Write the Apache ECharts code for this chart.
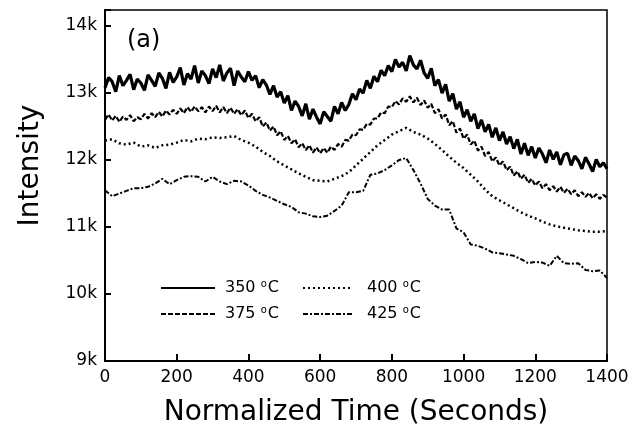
<!DOCTYPE html>
<html>
<head>
<meta charset="utf-8">
<script src="https://cdn.jsdelivr.net/npm/echarts@6/dist/echarts.min.js"></script>
<style>
  html, body { margin: 0; padding: 0; background: #fff; }
  #chart { width: 642px; height: 437px; }
</style>
</head>
<body>
<div id="chart"></div>
<script>
// sample times (seconds)
const time10 = Array.from({ length: 141 }, (_, i) => i * 10);
const time20 = Array.from({ length: 71 }, (_, i) => i * 20);

// 350 oC, read every 10 s (very noisy trace)
const int350 = [
  13080, 13230, 13170, 13020, 13260, 13110, 13190, 13280, 13050, 13210,
  13150, 13040, 13270, 13190, 13100, 13300, 13220, 13070, 13310, 13160,
  13240, 13380, 13120, 13290, 13210, 13410, 13150, 13330, 13260, 13140,
  13360, 13230, 13420, 13180, 13300, 13370, 13110, 13330, 13240, 13170,
  13320, 13190, 13260, 13080, 13200, 13120, 12980, 13110, 12940, 13020,
  12850, 12960, 12740, 12880, 12800, 12660, 12840, 12610, 12760, 12640,
  12540, 12720, 12650, 12580, 12800, 12690, 12860, 12740, 12830, 12990,
  12900, 13060, 13000, 13190, 13070, 13250, 13170, 13340, 13260, 13410,
  13320, 13500, 13390, 13460, 13330, 13560, 13420, 13360, 13490, 13300,
  13220, 13370, 13110, 13200, 13000, 13130, 12880, 12990, 12760, 12870,
  12640, 12750, 12580, 12690, 12470, 12600, 12420, 12530, 12340, 12480,
  12290, 12420, 12240, 12350, 12170, 12310, 12090, 12250, 12070, 12200,
  12030, 12180, 12090, 11960, 12150, 12010, 12120, 11930, 12080, 12100,
  11920, 12060, 11990, 11870, 12040, 11940, 11830, 12010, 11900, 11960,
  11870
];

// 375 oC, every 10 s
const int375 = [
  12600, 12680, 12590, 12660, 12570, 12650, 12600, 12670, 12580, 12640,
  12610, 12690, 12620, 12700, 12640, 12720, 12650, 12740, 12680, 12750,
  12690, 12770, 12700, 12790, 12720, 12800, 12730, 12790, 12710, 12800,
  12730, 12810, 12710, 12790, 12700, 12780, 12690, 12760, 12670, 12740,
  12630, 12690, 12580, 12640, 12500, 12560, 12440, 12500, 12370, 12430,
  12300, 12360, 12250, 12310, 12190, 12250, 12150, 12220, 12110, 12190,
  12100, 12180, 12110, 12200, 12150, 12240, 12200, 12300, 12290, 12380,
  12370, 12460, 12450, 12540, 12530, 12620, 12620, 12710, 12700, 12800,
  12790, 12880, 12830, 12920, 12870, 12950, 12860, 12930, 12820, 12890,
  12780, 12840, 12700, 12760, 12620, 12680, 12520, 12580, 12410, 12470,
  12320, 12380, 12230, 12290, 12140, 12200, 12060, 12120, 11980, 12040,
  11920, 11980, 11850, 11900, 11770, 11830, 11720, 11780, 11660, 11720,
  11620, 11680, 11580, 11640, 11550, 11610, 11530, 11600, 11510, 11570,
  11490, 11550, 11460, 11520, 11450, 11510, 11430, 11490, 11420, 11480,
  11440
];

// 400 oC, every 20 s
const int400 = [
  12290, 12310, 12250, 12230, 12260, 12200, 12220, 12180, 12220, 12230,
  12260, 12300, 12280, 12320, 12310, 12340, 12330, 12340, 12360, 12300,
  12260, 12200, 12120, 12060, 11980, 11920, 11860, 11800, 11750, 11700,
  11690, 11680, 11720, 11760, 11820, 11920, 12020, 12120, 12220, 12300,
  12380, 12430, 12480, 12420, 12380, 12320, 12240, 12150, 12050, 11960,
  11880, 11780, 11680, 11560, 11460, 11400, 11340, 11280, 11220, 11170,
  11130, 11080, 11040, 11010, 10990, 10970, 10950, 10940, 10930, 10930,
  10940
];

// 425 oC, every 20 s
const int425 = [
  11550, 11460, 11500, 11540, 11580, 11580, 11600, 11650, 11720, 11640,
  11700, 11750, 11760, 11750, 11680, 11750, 11680, 11640, 11690, 11680,
  11620, 11540, 11480, 11440, 11390, 11340, 11300, 11220, 11200, 11160,
  11150, 11170, 11240, 11320, 11520, 11520, 11540, 11780, 11800, 11850,
  11920, 12000, 12030, 11850, 11650, 11420, 11320, 11260, 11260, 10980,
  10920, 10740, 10720, 10680, 10620, 10610, 10590, 10570, 10520, 10460,
  10480, 10470, 10420, 10570, 10460, 10450, 10460, 10360, 10340, 10350,
  10240
];

const xTicks = [0, 200, 400, 600, 800, 1000, 1200, 1400];
const yTicks = [9000, 10000, 11000, 12000, 13000, 14000];

const FONT = 'DejaVu Sans';

function pairs(xs, ys) {
  return ys.map((v, i) => [xs[i], v]);
}

const chart = echarts.init(document.getElementById('chart'));

const legendText = {
  fontFamily: FONT,
  fontSize: 16,
  color: '#000',
  padding: [0, 0, 0, 5],
  rich: {
    o: { fontFamily: FONT, fontSize: 10, padding: [0, 1, 8, 0], color: '#000' }
  }
};

function legendLabel(name) {
  return name.replace(' \u00b0C', ' {o|o}C');
}

chart.setOption({
  animation: false,
  backgroundColor: '#fff',
  title: {
    text: '(a)',
    left: 122,
    top: 24,
    textStyle: { fontFamily: FONT, fontSize: 24, fontWeight: 'normal', color: '#000' }
  },
  grid: {
    left: 105, right: 35, top: 10, bottom: 76,
    show: true, borderColor: '#000', borderWidth: 1.5, backgroundColor: 'transparent'
  },
  legend: [
    {
      data: ['350 \u00b0C', '375 \u00b0C'],
      orient: 'vertical',
      left: 155, top: 274,
      itemWidth: 54, itemHeight: 14, itemGap: 9,
      itemStyle: { opacity: 0 },
      lineStyle: { width: 2 },
      textStyle: legendText,
      formatter: legendLabel
    },
    {
      data: ['400 \u00b0C', '425 \u00b0C'],
      orient: 'vertical',
      left: 297, top: 274,
      itemWidth: 50, itemHeight: 14, itemGap: 9,
      itemStyle: { opacity: 0 },
      textStyle: Object.assign({}, legendText, { padding: [0, 0, 0, 9] }),
      formatter: legendLabel
    }
  ],
  xAxis: {
    type: 'value',
    min: 0, max: 1400, interval: 200,
    name: 'Normalized Time (Seconds)',
    nameLocation: 'middle',
    nameGap: 38,
    nameTextStyle: { fontFamily: FONT, fontSize: 28, color: '#000' },
    axisLine: { show: true, lineStyle: { color: '#000', width: 2 } },
    axisTick: { inside: true, length: 7, lineStyle: { color: '#000', width: 2 } },
    axisLabel: {
      fontFamily: FONT, fontSize: 17, color: '#000', margin: 8,
      formatter: v => xTicks.includes(v) ? String(v) : ''
    },
    splitLine: { show: false }
  },
  yAxis: {
    type: 'value',
    min: 9000, max: 14240, interval: 1000,
    name: 'Intensity',
    nameLocation: 'middle',
    nameGap: 60,
    nameTextStyle: { fontFamily: FONT, fontSize: 28, color: '#000', padding: [0, 0, 0, 40] },
    axisLine: { show: true, lineStyle: { color: '#000', width: 2 } },
    axisTick: { inside: true, length: 6, lineStyle: { color: '#000', width: 2 } },
    axisLabel: {
      fontFamily: FONT, fontSize: 17, color: '#000', margin: 8,
      formatter: v => yTicks.includes(v) ? (v / 1000) + 'k' : ''
    },
    splitLine: { show: false }
  },
  series: [
    {
      name: '350 \u00b0C', type: 'line', symbol: 'none',
      data: pairs(time10, int350),
      lineStyle: { color: '#000', width: 3.2, type: 'solid' },
      itemStyle: { color: '#000' }
    },
    {
      name: '375 \u00b0C', type: 'line', symbol: 'none',
      data: pairs(time10, int375),
      lineStyle: { color: '#000', width: 2.2, type: [5, 2] },
      itemStyle: { color: '#000' }
    },
    {
      name: '400 \u00b0C', type: 'line', symbol: 'none',
      data: pairs(time20, int400),
      lineStyle: { color: '#000', width: 2.5, type: [2, 3] },
      itemStyle: { color: '#000' }
    },
    {
      name: '425 \u00b0C', type: 'line', symbol: 'none',
      data: pairs(time20, int425),
      lineStyle: { color: '#000', width: 2, type: [5, 2, 2, 2] },
      itemStyle: { color: '#000' }
    }
  ]
});
</script>
</body>
</html>
